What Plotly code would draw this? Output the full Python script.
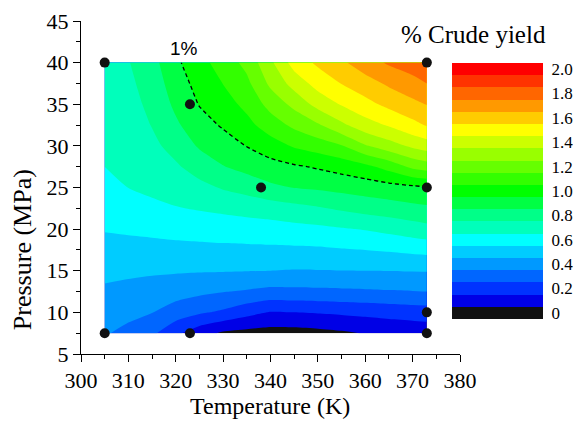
import plotly.graph_objects as go

# ---- data ----
temperature = [305, 310, 315, 320, 325, 330, 335, 340, 345, 350, 355, 360, 365, 370, 373]
pressure = [7.5, 10, 12.5, 15, 17.5, 20, 22.5, 25, 27.5, 30, 32.5, 35, 37.5, 40]
crude_yield = [
    [0.41, 0.37, 0.32, 0.22, 0.14, 0.085, 0.07, 0.06, 0.06, 0.07, 0.085, 0.105, 0.12, 0.13, 0.14],
    [0.444, 0.429, 0.402, 0.356, 0.314, 0.283, 0.233, 0.194, 0.200, 0.208, 0.216, 0.226, 0.237, 0.246, 0.25],
    [0.484, 0.472, 0.458, 0.438, 0.421, 0.404, 0.39, 0.372, 0.376, 0.379, 0.383, 0.387, 0.392, 0.397, 0.40],
    [0.525, 0.518, 0.513, 0.510, 0.507, 0.506, 0.503, 0.50, 0.495, 0.497, 0.499, 0.50, 0.501, 0.504, 0.505],
    [0.567, 0.567, 0.567, 0.571, 0.573, 0.577, 0.579, 0.581, 0.583, 0.585, 0.593, 0.60, 0.61, 0.624, 0.63],
    [0.606, 0.614, 0.623, 0.633, 0.641, 0.647, 0.653, 0.659, 0.669, 0.678, 0.692, 0.706, 0.728, 0.753, 0.769],
    [0.638, 0.659, 0.68, 0.695, 0.708, 0.721, 0.735, 0.75, 0.77, 0.79, 0.815, 0.838, 0.855, 0.874, 0.883],
    [0.669, 0.701, 0.719, 0.742, 0.772, 0.809, 0.838, 0.881, 0.903, 0.915, 0.931, 0.947, 0.963, 0.979, 0.991],
    [0.70, 0.717, 0.748, 0.787, 0.842, 0.896, 0.933, 0.963, 0.987, 1.011, 1.039, 1.074, 1.136, 1.223, 1.25],
    [0.716, 0.733, 0.777, 0.835, 0.912, 0.956, 1.003, 1.055, 1.111, 1.147, 1.193, 1.29, 1.358, 1.42, 1.45],
    [0.732, 0.748, 0.804, 0.884, 0.96, 1.011, 1.07, 1.15, 1.222, 1.288, 1.379, 1.46, 1.51, 1.572, 1.608],
    [0.748, 0.764, 0.825, 0.92, 1.005, 1.056, 1.127, 1.234, 1.328, 1.435, 1.508, 1.568, 1.626, 1.674, 1.704],
    [0.764, 0.779, 0.845, 0.95, 1.035, 1.102, 1.176, 1.321, 1.438, 1.539, 1.603, 1.659, 1.716, 1.767, 1.80],
    [0.78, 0.795, 0.866, 0.98, 1.066, 1.144, 1.23, 1.38, 1.543, 1.618, 1.683, 1.755, 1.814, 1.85, 1.87],
]

# experimental points
points_T = [305, 305, 323, 323, 338, 373, 373, 373, 373]
points_P = [7.5, 40, 7.5, 35, 25, 40, 25, 10, 7.5]

# colour bar levels and band colours
levels = [0.0, 0.1, 0.2, 0.3, 0.4, 0.5, 0.6, 0.7, 0.8, 0.9, 1.0,
          1.1, 1.2, 1.3, 1.4, 1.5, 1.6, 1.7, 1.8, 1.9, 2.0]
band_colors = ['#111111', '#0000E6', '#0033FF', '#0066FF', '#0099FF', '#00CCFF',
               '#00FFFF', '#00FFBB', '#00FF88', '#00FF44', '#00FF00', '#33FF00',
               '#66FF00', '#99FF00', '#CCFF00', '#FFFF00', '#FFCC00', '#FF9900',
               '#FF6600', '#FF3300', '#FF0000']
cbar_tickvals = [0.0, 0.2, 0.4, 0.6, 0.8, 1.0, 1.2, 1.4, 1.6, 1.8, 2.0]
cbar_ticktext = ['0', '0.2', '0.4', '0.6', '0.8', '1.0', '1.2', '1.4', '1.6', '1.8', '2.0']

SERIF = 'Liberation Serif, Times New Roman, serif'
SANS = 'Liberation Sans, Arial, sans-serif'

n = len(band_colors) - 1
colorscale = [[i / n, c] for i, c in enumerate(band_colors)]

fig = go.Figure()

# filled contour
fig.add_trace(go.Contour(
    x=temperature, y=pressure, z=crude_yield,
    colorscale=colorscale, zmin=0.05, zmax=2.05,
    autocontour=False,
    contours=dict(start=0.1, end=2.0, size=0.1, coloring='fill', showlines=False),
    line=dict(width=0, smoothing=0.6),
    showscale=False, hoverinfo='skip'))

# dashed 1 % contour line
fig.add_trace(go.Contour(
    x=temperature, y=pressure, z=crude_yield,
    autocontour=False,
    contours=dict(start=1.0, end=1.0, size=0.1, coloring='none'),
    line=dict(color='black', width=1.3, dash='4px,3px', smoothing=0.6),
    showscale=False, hoverinfo='skip'))

# data points
fig.add_trace(go.Scatter(
    x=points_T, y=points_P, mode='markers',
    marker=dict(color='#111111', size=10, line=dict(width=0)),
    showlegend=False, hoverinfo='skip'))

# custom colour bar
fig.add_trace(go.Heatmap(
    x=[0], y=levels, z=[[v] for v in levels],
    colorscale=colorscale, zmin=0.0, zmax=2.0,
    showscale=False, xaxis='x2', yaxis='y2', hoverinfo='skip'))

axis_common = dict(
    showline=True, linecolor='black', linewidth=1,
    ticks='outside', ticklen=7, tickwidth=1, tickcolor='black',
    showgrid=False, zeroline=False, mirror=False, automargin=False,
    tickfont=dict(family=SERIF, size=22, color='black'),
)

fig.update_layout(
    width=575, height=421,
    margin=dict(l=81, r=30, t=21, b=67, autoexpand=False),
    paper_bgcolor='white', plot_bgcolor='white',
    showlegend=False,
    xaxis=dict(
        domain=[0, 0.8168], range=[300, 380],
        tickmode='linear', tick0=300, dtick=10,
        minor=dict(dtick=5, ticks='outside', ticklen=4, tickcolor='black'),
        **axis_common),
    yaxis=dict(
        domain=[0, 1], range=[5, 45],
        tickmode='linear', tick0=5, dtick=5,
        minor=dict(dtick=2.5, ticks='outside', ticklen=4, tickcolor='black'),
        **axis_common),
    xaxis2=dict(domain=[0.7996, 0.9957], anchor='y2', range=[-0.5, 0.5],
                visible=False, automargin=False),
    yaxis2=dict(domain=[0.1051, 0.8739], anchor='x2', side='right', range=[-0.05, 2.05],
                tickmode='array', tickvals=cbar_tickvals, ticktext=cbar_ticktext,
                ticks='outside', ticklen=4, tickcolor='rgba(0,0,0,0)',
                showline=False, showgrid=False, zeroline=False, automargin=False,
                tickfont=dict(family=SERIF, size=17, color='black')),
    annotations=[
        dict(text='Temperature (K)', xref='paper', yref='paper',
             x=0.408, y=-0.155, xanchor='center', yanchor='middle', showarrow=False,
             font=dict(family=SERIF, size=24, color='black')),
        dict(text='Pressure (MPa)', textangle=-90, xref='paper', yref='paper',
             x=-0.127, y=0.312, xanchor='center', yanchor='middle', showarrow=False,
             font=dict(family=SERIF, size=26, color='black')),
        dict(text='% Crude yield', xref='paper', yref='paper', x=0.845, y=0.958,
             xanchor='center', yanchor='middle',
             showarrow=False, font=dict(family=SERIF, size=25, color='black')),
        dict(text='1%', xref='x', yref='y', x=321.7, y=41.7,
             xanchor='center', yanchor='middle',
             showarrow=False, font=dict(family=SANS, size=19, color='black')),
    ],
)

fig.write_html('out.html')
